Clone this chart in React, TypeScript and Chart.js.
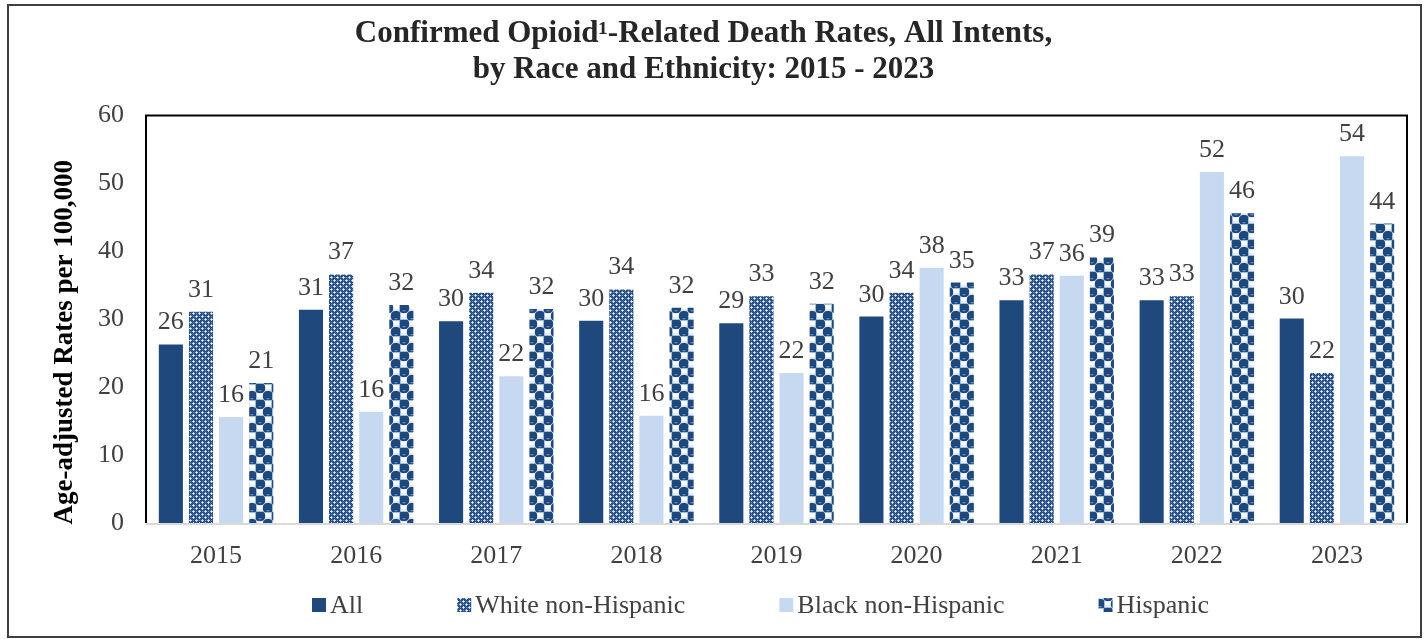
import React, { useEffect, useRef } from 'react';
import { Chart, registerables } from 'chart.js';

Chart.register(...registerables);

const categories = ['2015', '2016', '2017', '2018', '2019', '2020', '2021', '2022', '2023'];
const seriesNames = ['All', 'White non-Hispanic', 'Black non-Hispanic', 'Hispanic'];
const allRates = [26.3, 31.4, 29.7, 29.8, 29.4, 30.4, 32.8, 32.8, 30.1];
const whiteRates = [31.1, 36.6, 33.9, 34.4, 33.4, 33.9, 36.6, 33.4, 22.1];
const blackRates = [15.6, 16.4, 21.6, 15.8, 22.1, 37.6, 36.4, 51.7, 54.0];
const hispanicRates = [20.6, 32.1, 31.5, 31.7, 32.3, 35.4, 39.1, 45.6, 44.1];
const yTickValues = [0, 10, 20, 30, 40, 50, 60];
const chartTitle = ['Confirmed Opioid\u00B9-Related Death Rates, All Intents,', 'by Race and Ethnicity: 2015 - 2023'];
const yAxisTitle = 'Age-adjusted Rates per 100,000';

const SERIF = '"Liberation Serif", "Times New Roman", serif';
const NAVY = '#1f497d';
const LIGHT = '#c6d9f1';
const TEXT = '#404040';

function makeWhitePattern(ctx: CanvasRenderingContext2D) {
  const c = document.createElement('canvas');
  c.width = 6;
  c.height = 6;
  const g = c.getContext('2d')!;
  g.fillStyle = '#2a5284';
  g.fillRect(0, 0, 6, 6);
  const plus = (cx: number, cy: number) => {
    g.fillStyle = '#b4c9e3';
    [[0, -1], [0, 1], [-1, 0], [1, 0]].forEach(([dx, dy]) =>
      g.fillRect((cx + dx + 6) % 6, (cy + dy + 6) % 6, 1, 1)
    );
    g.fillStyle = '#ffffff';
    g.fillRect(cx, cy, 1, 1);
  };
  plus(1, 1);
  plus(4, 4);
  g.fillStyle = '#6f8fb8';
  g.fillRect(4, 1, 1, 1);
  g.fillRect(1, 4, 1, 1);
  return ctx.createPattern(c, 'repeat')!;
}

function makeHispanicPattern(ctx: CanvasRenderingContext2D) {
  const c = document.createElement('canvas');
  c.width = 16;
  c.height = 16;
  const g = c.getContext('2d')!;
  g.fillStyle = '#9fbbdc';
  g.fillRect(0, 0, 16, 16);
  g.fillStyle = '#ffffff';
  g.fillRect(9, 1, 6, 6);
  g.fillRect(1, 9, 6, 6);
  g.fillStyle = '#e3edf8';
  g.fillRect(9, 5, 6, 2);
  g.fillRect(1, 13, 6, 2);
  const ball = (cx: number, cy: number) => {
    g.fillStyle = NAVY;
    g.beginPath();
    g.arc(cx, cy, 5.3, 0, Math.PI * 2);
    g.fill();
    g.fillStyle = '#5a83b8';
    g.beginPath();
    g.arc(cx, cy + 2, 1.6, 0, Math.PI);
    g.fill();
  };
  ball(4, 4);
  ball(12, 12);
  return ctx.createPattern(c, 'repeat')!;
}

const framePlugin = {
  id: 'plotFrame',
  beforeDatasetsDraw(chart: any) {
    const { ctx, chartArea } = chart;
    const { left, right, top, bottom } = chartArea;
    ctx.save();
    ctx.strokeStyle = '#d9d9d9';
    ctx.lineWidth = 2;
    ctx.beginPath();
    ctx.moveTo(left, bottom + 1);
    ctx.lineTo(right, bottom + 1);
    ctx.stroke();
    ctx.strokeStyle = '#000000';
    ctx.lineWidth = 2;
    ctx.beginPath();
    ctx.moveTo(left, bottom);
    ctx.lineTo(left, top);
    ctx.lineTo(right, top);
    ctx.lineTo(right, bottom);
    ctx.stroke();
    ctx.restore();
  },
};

const labelPlugin = {
  id: 'barLabels',
  afterDatasetsDraw(chart: any) {
    const { ctx } = chart;
    ctx.save();
    ctx.font = `26px ${SERIF}`;
    ctx.fillStyle = TEXT;
    ctx.textAlign = 'center';
    ctx.textBaseline = 'alphabetic';
    chart.data.datasets.forEach((ds: any, i: number) => {
      const meta = chart.getDatasetMeta(i);
      meta.data.forEach((el: any, j: number) => {
        ctx.fillText(String(Math.round(ds.data[j])), el.x, el.y - 15);
      });
    });
    ctx.restore();
  },
};

const yTitlePlugin = {
  id: 'yTitle',
  afterDraw(chart: any) {
    const { ctx, chartArea } = chart;
    ctx.save();
    ctx.font = `bold 27px ${SERIF}`;
    ctx.fillStyle = '#000000';
    ctx.textAlign = 'center';
    ctx.textBaseline = 'middle';
    ctx.translate(chartArea.left - 81, (chartArea.top + chartArea.bottom) / 2 + 23);
    ctx.rotate(-Math.PI / 2);
    ctx.fillText(yAxisTitle, 0, 0);
    ctx.restore();
  },
};

const legendPlugin = {
  id: 'customLegend',
  afterDraw(chart: any) {
    const { ctx, chartArea } = chart;
    ctx.save();
    ctx.font = `26px ${SERIF}`;
    const box = 14;
    const gap = 4;
    const spacing = 94;
    const items = chart.data.datasets.map((ds: any) => ({
      label: ds.label,
      fill: ds.backgroundColor,
      w: box + gap + ctx.measureText(ds.label).width,
    }));
    const total = items.reduce((s: number, it: any) => s + it.w, 0) + spacing * (items.length - 1);
    const cx = (chartArea.left + chartArea.right) / 2 - 16;
    let x = cx - total / 2;
    const y = chart.height - 34;
    ctx.textBaseline = 'middle';
    ctx.textAlign = 'left';
    items.forEach((it: any) => {
      ctx.fillStyle = it.fill;
      ctx.fillRect(x, y - box / 2, box, box);
      ctx.fillStyle = TEXT;
      ctx.fillText(it.label, x + box + gap, y + 1);
      x += it.w + spacing;
    });
    ctx.restore();
  },
};

export default function App() {
  const ref = useRef<HTMLCanvasElement>(null);

  useEffect(() => {
    const canvas = ref.current!;
    const ctx = canvas.getContext('2d')!;
    const whitePattern = makeWhitePattern(ctx);
    const hispanicPattern = makeHispanicPattern(ctx);
    const chart = new Chart(ctx, {
      type: 'bar',
      data: {
        labels: categories,
        datasets: [
          { label: seriesNames[0], data: allRates, backgroundColor: NAVY },
          { label: seriesNames[1], data: whiteRates, backgroundColor: whitePattern },
          { label: seriesNames[2], data: blackRates, backgroundColor: LIGHT },
          { label: seriesNames[3], data: hispanicRates, backgroundColor: hispanicPattern },
        ],
      },
      options: {
        responsive: false,
        animation: false,
        devicePixelRatio: 1,
        datasets: {
          bar: { categoryPercentage: 0.86, barPercentage: 0.8 },
        },
        layout: { padding: { left: 0, right: 21, top: 0, bottom: 68 } },
        plugins: {
          legend: { display: false },
          tooltip: { enabled: false },
          title: {
            display: true,
            text: chartTitle,
            color: '#262626',
            font: { family: SERIF, size: 31, weight: 'bold', lineHeight: 1.17 },
            padding: { top: 16, bottom: 27 },
          },
        },
        scales: {
          x: {
            grid: { display: false, drawTicks: false },
            border: { display: false },
            ticks: { color: TEXT, font: { family: SERIF, size: 26 }, padding: 18 },
            afterFit(scale: any) {
              scale.height = 48;
            },
          },
          y: {
            min: 0,
            max: 60,
            grid: { display: false, drawTicks: false },
            border: { display: false },
            ticks: { color: TEXT, font: { family: SERIF, size: 26 }, padding: 22 },
            afterBuildTicks(scale: any) {
              scale.ticks = yTickValues.map((v) => ({ value: v }));
            },
            afterFit(scale: any) {
              scale.width = 146;
            },
          },
        },
      },
      plugins: [framePlugin, labelPlugin, yTitlePlugin, legendPlugin],
    } as any);
    return () => chart.destroy();
  }, []);

  return (
    <div style={{ position: 'absolute', left: 0, top: 0, width: 1428, height: 639, background: '#ffffff' }}>
      <canvas ref={ref} width={1428} height={639} style={{ display: 'block', width: 1428, height: 639 }} />
      <div
        style={{
          position: 'absolute',
          left: 7,
          top: 4,
          width: 1415,
          height: 634,
          border: '2px solid #3f3f3f',
          boxSizing: 'border-box',
          pointerEvents: 'none',
        }}
      />
    </div>
  );
}
